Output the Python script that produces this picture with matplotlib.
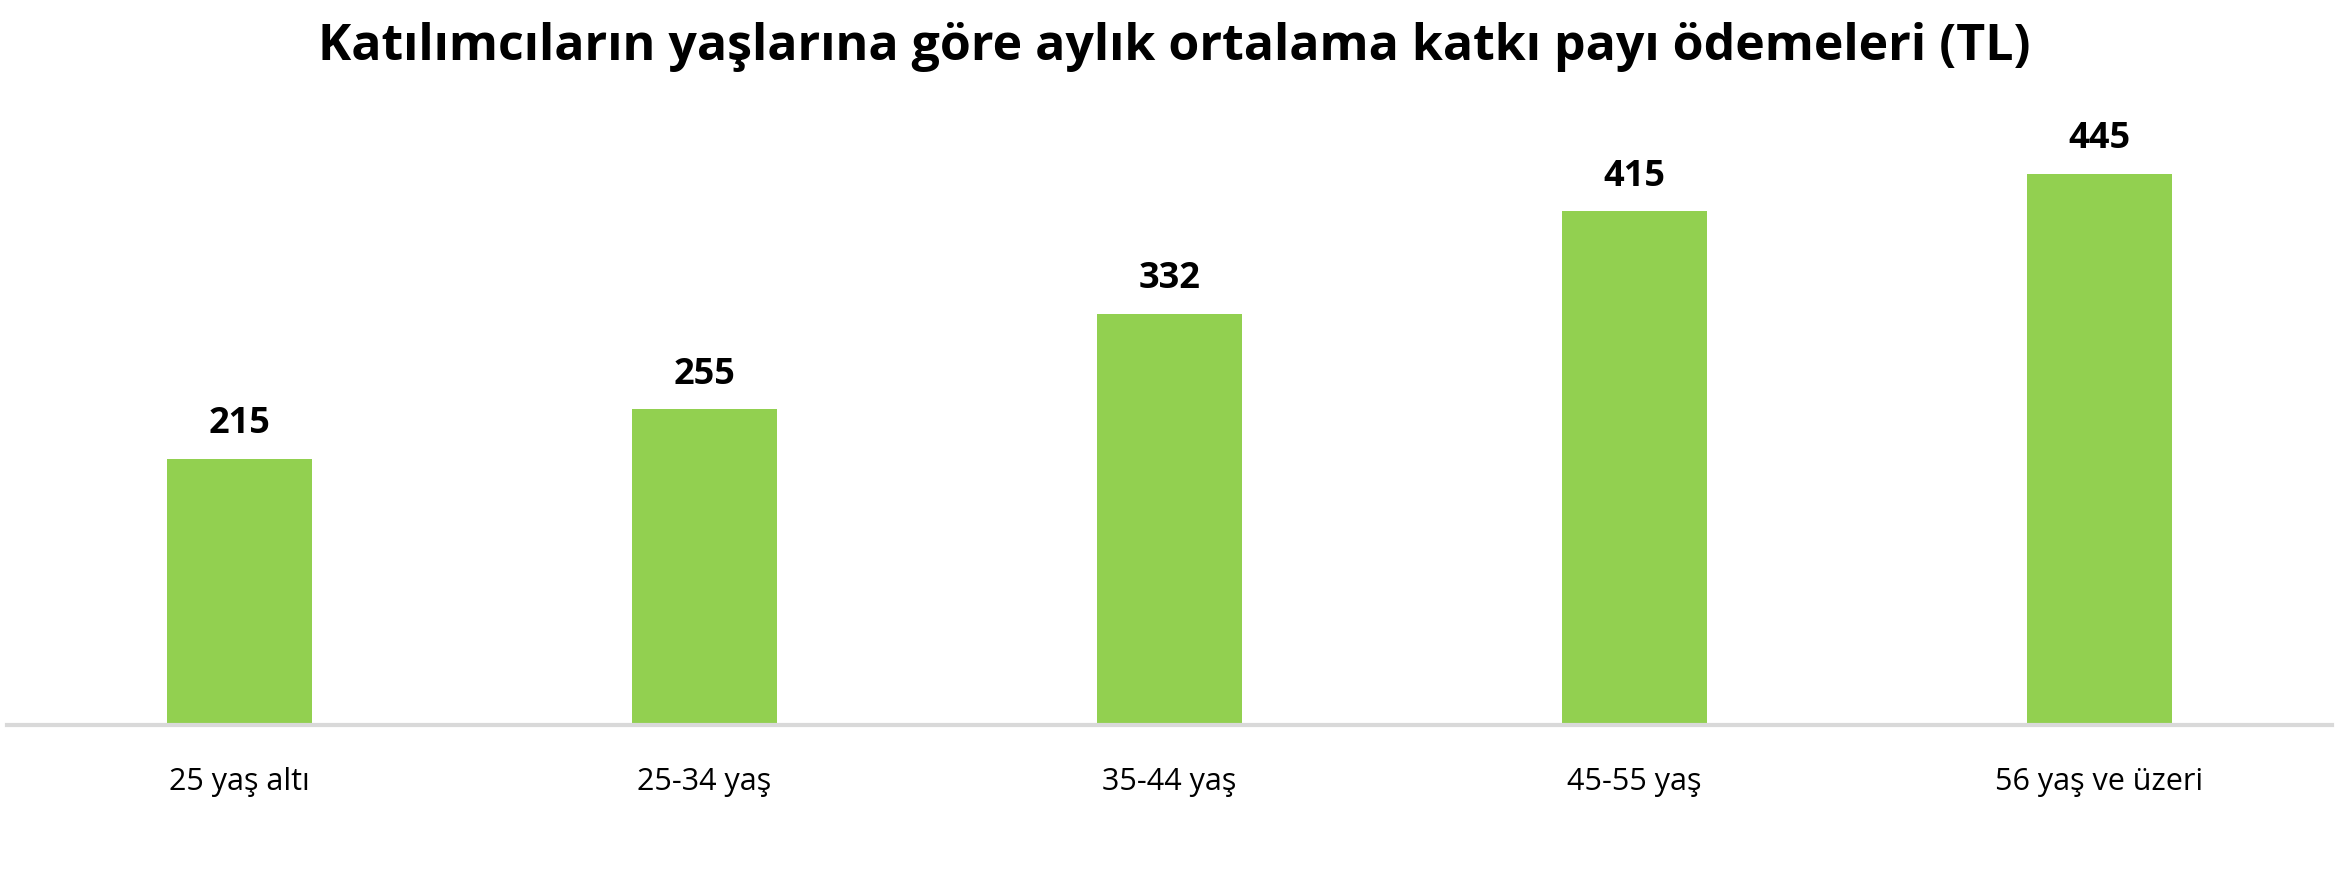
import matplotlib.pyplot as plt

categories = ["25 yaş altı", "25-34 yaş", "35-44 yaş", "45-55 yaş", "56 yaş ve üzeri"]
values = [215, 255, 332, 415, 445]
title = "Katılımcıların yaşlarına göre aylık ortalama katkı payı ödemeleri (TL)"

plt.rcParams["font.family"] = ["Open Sans", "DejaVu Sans"]

fig = plt.figure(figsize=(23.49, 8.74), dpi=100)
ax = fig.add_axes([7 / 2349, 1 - 725 / 874, 2325 / 2349, 619 / 874])

x = range(len(categories))
bars = ax.bar(x, values, width=0.31, color="#92D050", zorder=2)

for b, v in zip(bars, values):
    ax.annotate(str(v), (b.get_x() + b.get_width() / 2, v), xytext=(0, 12),
                textcoords="offset points", ha="center", va="bottom",
                fontsize=26, fontweight="bold")

ax.set_xlim(-0.5, len(categories) - 0.5)
ax.set_ylim(0, 500)
ax.set_xticks(list(x))
ax.set_xticklabels(categories, fontsize=22)
ax.tick_params(axis="x", length=0, pad=30)
ax.set_yticks([])
for s in ["top", "right", "left"]:
    ax.spines[s].set_visible(False)
ax.spines["bottom"].set_color("#D9D9D9")
ax.spines["bottom"].set_linewidth(3)

fig.text(0.5, 1 - 47 / 874, title, ha="center", va="center",
         fontsize=36, fontweight="bold")

fig.savefig("out.png", dpi=100)
